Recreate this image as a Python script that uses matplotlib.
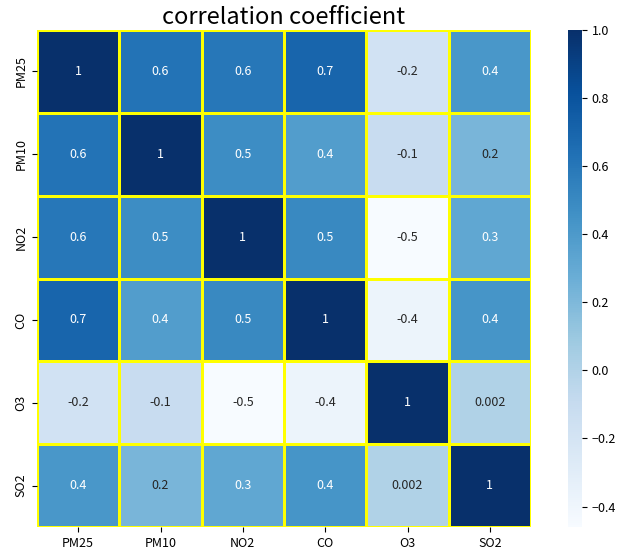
import numpy as np
import pandas as pd
import seaborn as sns
import matplotlib.pyplot as plt

# %% data
labels = ['PM25', 'PM10', 'NO2', 'CO', 'O3', 'SO2']
row_pm25 = [1.0, 0.62, 0.60, 0.70, -0.18, 0.42]
row_pm10 = [0.62, 1.0, 0.48, 0.38, -0.11, 0.22]
row_no2 = [0.60, 0.48, 1.0, 0.50, -0.46, 0.32]
row_co = [0.70, 0.38, 0.50, 1.0, -0.38, 0.43]
row_o3 = [-0.18, -0.11, -0.46, -0.38, 1.0, 0.002]
row_so2 = [0.42, 0.22, 0.32, 0.43, 0.002, 1.0]

corr = pd.DataFrame([row_pm25, row_pm10, row_no2, row_co, row_o3, row_so2],
                    index=labels, columns=labels)

# %% plot
plt.rcParams['font.family'] = ['Noto Sans CJK SC', 'DejaVu Sans']
fig = plt.figure(figsize=(6.29, 5.52), dpi=100)
ax = fig.add_axes([37 / 629, 25 / 552, 494 / 629, 497 / 552])
cax = fig.add_axes([568 / 629, 25 / 552, 14 / 629, 497 / 552])

sns.heatmap(corr, ax=ax, cbar_ax=cax, cmap='Blues', annot=True, fmt='.1g',
            linewidths=2, linecolor='yellow', annot_kws={'fontsize': 9})
ax.set_title('correlation coefficient', fontsize=17, pad=4)
ax.tick_params(labelsize=9)
cax.tick_params(labelsize=9)
for s in cax.spines.values():
    s.set_visible(False)
fig.savefig('out.png', dpi=100)
